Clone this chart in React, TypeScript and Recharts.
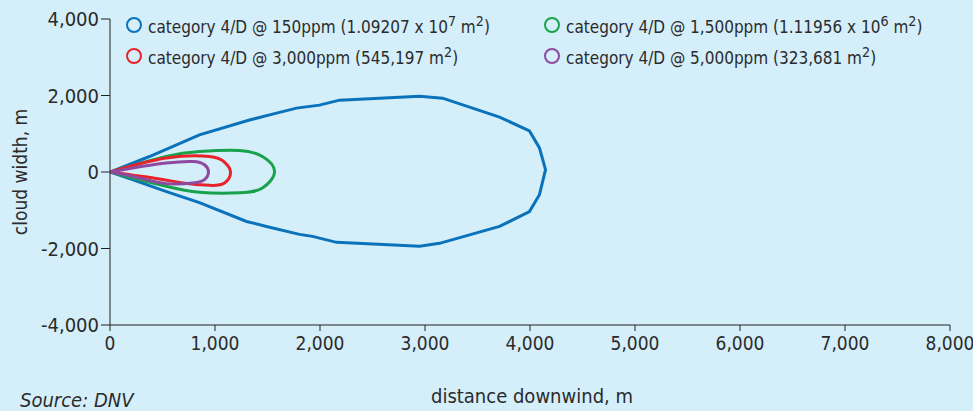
import { Line, LineChart, XAxis, YAxis } from "recharts";

type Pt = { x: number; y: number };

const ppm150: Pt[] = [
  { x: 0, y: 0 }, { x: 376, y: 405 }, { x: 852, y: 969 }, { x: 1329, y: 1358 },
  { x: 1548, y: 1514 }, { x: 1776, y: 1670 }, { x: 1995, y: 1748 }, { x: 2186, y: 1878 },
  { x: 2948, y: 1982 }, { x: 3167, y: 1930 }, { x: 3710, y: 1436 }, { x: 3995, y: 1073 },
  { x: 4090, y: 631 }, { x: 4148, y: 60 }, { x: 4090, y: -592 }, { x: 3995, y: -1034 },
  { x: 3710, y: -1423 }, { x: 3138, y: -1865 }, { x: 2948, y: -1943 }, { x: 2157, y: -1839 },
  { x: 1929, y: -1683 }, { x: 1805, y: -1631 }, { x: 1490, y: -1423 }, { x: 1300, y: -1293 },
  { x: 852, y: -800 }, { x: 538, y: -514 }, { x: 214, y: -200 }, { x: 0, y: 0 },
];

const ppm1500: Pt[] = [
  { x: 0, y: 0 }, { x: 535, y: 405 }, { x: 852, y: 535 }, { x: 1233, y: 561 },
  { x: 1452, y: 405 }, { x: 1567, y: 16 }, { x: 1452, y: -416 }, { x: 1233, y: -545 },
  { x: 852, y: -530 }, { x: 535, y: -374 }, { x: 214, y: -156 }, { x: 0, y: 0 },
];

const ppm3000: Pt[] = [
  { x: 0, y: 0 }, { x: 535, y: 364 }, { x: 948, y: 405 }, { x: 1090, y: 260 },
  { x: 1148, y: 0 }, { x: 1090, y: -286 }, { x: 948, y: -348 }, { x: 693, y: -286 },
  { x: 471, y: -182 }, { x: 0, y: 0 },
];

const ppm5000: Pt[] = [
  { x: 0, y: 0 }, { x: 217, y: 104 }, { x: 535, y: 234 }, { x: 789, y: 275 },
  { x: 900, y: 190 }, { x: 938, y: 0 }, { x: 900, y: -200 }, { x: 789, y: -286 },
  { x: 535, y: -304 }, { x: 281, y: -156 }, { x: 0, y: 0 },
];

const xTicks = [0, 1000, 2000, 3000, 4000, 5000, 6000, 7000, 8000];
const yTicks = [-4000, -2000, 0, 2000, 4000];

const FONT = "'DejaVu Sans Condensed', 'Liberation Sans', sans-serif";
const TEXT = "#2b2b2b";

const legendItems = [
  { color: "#0a72bb", label: <>category 4/D @ 150ppm (1.09207 x 10<sup>7</sup> m<sup>2</sup>)</> },
  { color: "#17a24b", label: <>category 4/D @ 1,500ppm (1.11956 x 10<sup>6</sup> m<sup>2</sup>)</> },
  { color: "#e8232a", label: <>category 4/D @ 3,000ppm (545,197 m<sup>2</sup>)</> },
  { color: "#8e4a9e", label: <>category 4/D @ 5,000ppm (323,681 m<sup>2</sup>)</> },
];

function LegendBox() {
  return (
    <div
      style={{
        position: "absolute",
        left: 126,
        top: 13,
        display: "grid",
        gridTemplateColumns: "418px 400px",
        rowGap: 8,
        fontSize: 17,
      }}
    >
      {legendItems.map((it, i) => (
        <div key={i} style={{ display: "flex", alignItems: "center", height: 23 }}>
          <span
            style={{
              width: 12,
              height: 12,
              border: `2.5px solid ${it.color}`,
              borderRadius: "50%",
              marginRight: 6,
              flexShrink: 0,
            }}
          />
          <span style={{ lineHeight: "23px", whiteSpace: "nowrap" }}>{it.label}</span>
        </div>
      ))}
    </div>
  );
}

const fmt = (v: number) => v.toLocaleString("en-US");

export default function App() {
  return (
    <div
      style={{
        position: "absolute",
        left: 0,
        top: 0,
        width: 973,
        height: 411,
        background: "#d4eefa",
        fontFamily: FONT,
        color: TEXT,
      }}
    >
      <LineChart width={973} height={411} margin={{ top: 19, right: 23, bottom: 56, left: 10 }}>
        <XAxis
          type="number"
          dataKey="x"
          domain={[0, 8000]}
          ticks={xTicks}
          tickFormatter={fmt}
          height={30}
          tickSize={6}
          stroke="#222"
          tick={{ fill: TEXT, fontSize: 19, fontFamily: FONT, dy: 4 }}
          allowDataOverflow
        />
        <YAxis
          type="number"
          dataKey="y"
          domain={[-4000, 4000]}
          ticks={yTicks}
          tickFormatter={fmt}
          width={100}
          tickSize={9}
          stroke="#222"
          tick={{ fill: TEXT, fontSize: 20, fontFamily: FONT }}
          allowDataOverflow
        />
        <Line data={ppm150} dataKey="y" type="linear" stroke="#0a72bb" strokeWidth={3} dot={false} isAnimationActive={false} />
        <Line data={ppm1500} dataKey="y" type="natural" stroke="#17a24b" strokeWidth={3} dot={false} isAnimationActive={false} />
        <Line data={ppm3000} dataKey="y" type="natural" stroke="#e8232a" strokeWidth={3} dot={false} isAnimationActive={false} />
        <Line data={ppm5000} dataKey="y" type="natural" stroke="#8e4a9e" strokeWidth={3} dot={false} isAnimationActive={false} />
      </LineChart>
      <LegendBox />
      <div
        style={{
          position: "absolute",
          left: 20,
          top: 172,
          transform: "translate(-50%, -50%) rotate(-90deg)",
          whiteSpace: "nowrap",
          fontSize: 19,
        }}
      >
        cloud width, m
      </div>
      <div
        style={{
          position: "absolute",
          left: 532,
          top: 384,
          transform: "translateX(-50%)",
          whiteSpace: "nowrap",
          fontSize: 20,
        }}
      >
        distance downwind, m
      </div>
      <div
        style={{
          position: "absolute",
          left: 20,
          top: 388,
          fontStyle: "italic",
          whiteSpace: "nowrap",
          fontSize: 20,
        }}
      >
        Source: DNV
      </div>
    </div>
  );
}
